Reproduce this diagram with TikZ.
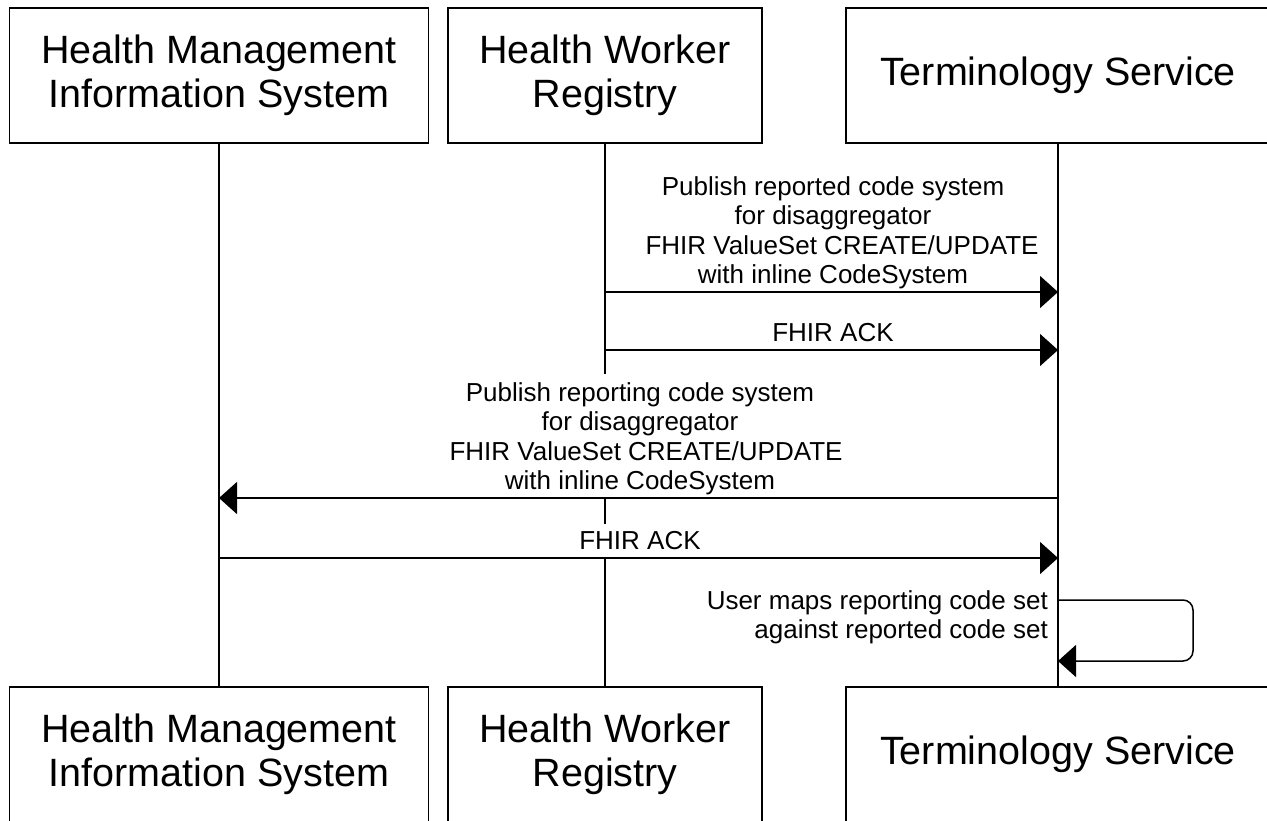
\documentclass[tikz,border=0pt]{standalone}
\usepackage{fontspec}
\setmainfont{Liberation Sans}
\usetikzlibrary{arrows.meta}
\begin{document}
\begin{tikzpicture}[x=1pt,y=-1pt,
  actor/.style={draw=black, fill=white, line width=1.5pt, minimum height=135pt, inner sep=0pt, align=center, font=\fontsize{39.5}{44}\selectfont},
  life/.style={line width=1.5pt},
  msg/.style={line width=1.5pt, -{Triangle[length=18pt,width=32pt]}},
  lbl/.style={align=center, fill=white, inner xsep=3pt, inner ysep=8pt, text depth=0pt, anchor=south, font=\fontsize{26}{29.5}\selectfont},
  selflbl/.style={align=right, inner sep=0pt, anchor=north east, font=\fontsize{26}{29.5}\selectfont}]
\useasboundingbox (0,0) rectangle (1267,820);
\clip (0,0) rectangle (1267,820);
\fill[white] (0,0) rectangle (1267,820);
% actors top
\node[actor, minimum width=419pt] (t1) at (219,75.5) {Health Management\\Information System};
\node[actor, minimum width=314pt] (t2) at (605,75.5) {Health Worker\\Registry};
\node[actor, minimum width=424pt] (t3) at (1058,75.5) {Terminology Service};
% actors bottom
\node[actor, minimum width=419pt] (b1) at (219,754.5) {Health Management\\Information System};
\node[actor, minimum width=314pt] (b2) at (605,754.5) {Health Worker\\Registry};
\node[actor, minimum width=424pt] (b3) at (1058,754.5) {Terminology Service};
% lifelines
\draw[life] (t1.south) -- (b1.north);
\draw[life] (t2.south) -- (b2.north);
\draw[life] (t3.south) -- (b3.north);
% message levels
\coordinate (y1) at (0,292);
\coordinate (y2) at (0,350);
\coordinate (y3) at (0,498);
\coordinate (y4) at (0,558);
\coordinate (s1) at (0,600);
\coordinate (s2) at (0,661);
\coordinate (sr1) at (1193,600);
\coordinate (sr2) at (1193,661);
% labels (white background hides lifelines)
\node[lbl] (l1) at (833,292) {Publish reported code system\\for disaggregator\\\hspace*{18pt}FHIR ValueSet CREATE/UPDATE\\with inline CodeSystem};
\node[lbl] (l2) at (833,350) {FHIR ACK};
\node[lbl] (l3) at (640,498) {Publish reporting code system\\for disaggregator\hspace*{30pt}\\\hspace*{12pt}FHIR ValueSet CREATE/UPDATE\\with inline CodeSystem};
\node[lbl] (l4) at (640,558) {FHIR ACK};
\node[selflbl] (l5) at (1048,590) {User maps reporting code set\\against reported code set};
% messages
\draw[msg] (t2.south |- y1) -- (t3.south |- y1);
\draw[msg] (t2.south |- y2) -- (t3.south |- y2);
\draw[msg] (t3.south |- y3) -- (t1.south |- y3);
\draw[msg] (t1.south |- y4) -- (t3.south |- y4);
\draw[msg, rounded corners=10pt] (t3.south |- s1) -- (sr1) -- (sr2) -- (t3.south |- s2);
\end{tikzpicture}
\end{document}
